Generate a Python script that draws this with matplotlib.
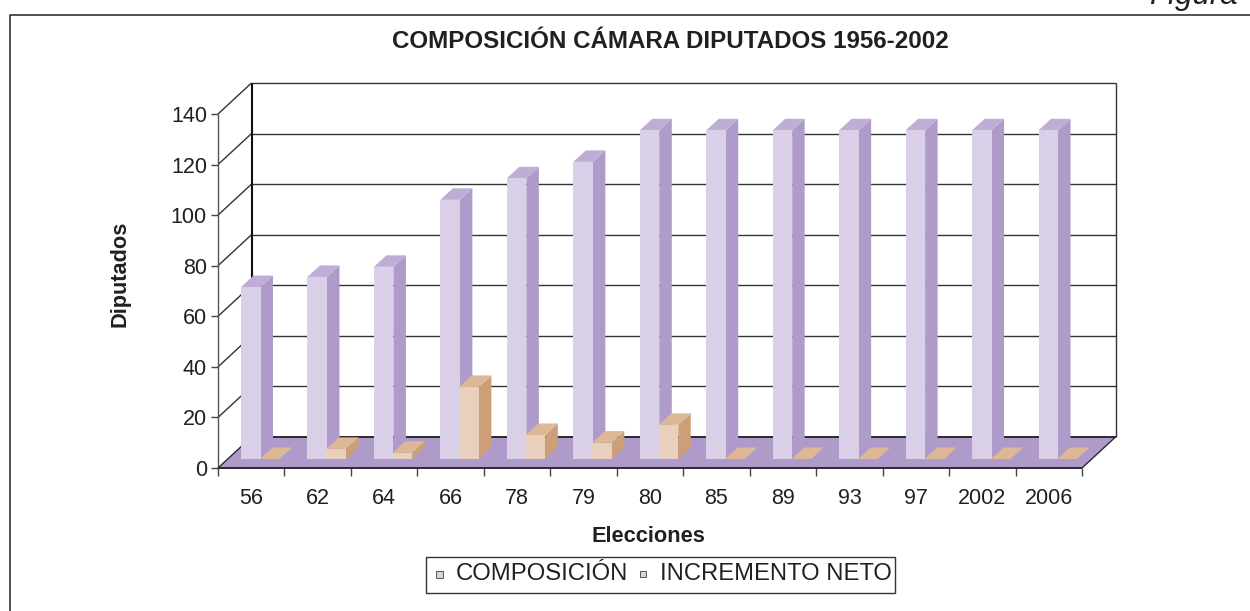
""" Composicion camara diputados, barras con falso 3D """
import matplotlib
matplotlib.use("Agg")
import matplotlib.pyplot as plt
from matplotlib.lines import Line2D
from matplotlib.patches import Polygon, Rectangle

plt.rcParams['font.family'] = ['Liberation Sans', 'DejaVu Sans']

#------------ Data ------------#
elecciones = ['56', '62', '64', '66', '78', '79', '80', '85', '89', '93', '97', '2002', '2006']
composicion = [68, 72, 76, 102.5, 111, 117.5, 130, 130, 130, 130, 130, 130, 130]
incremento = [0, 4, 2.5, 28.5, 9.5, 6.5, 13.5, 0, 0, 0, 0, 0, 0]
y_ticks = [0, 20, 40, 60, 80, 100, 120, 140]

#------------ Styles ------------#
W, H = 1250, 611
PURPLE = ('#d9d0e8', '#af9bc9', '#beaed5')   # front, side, top
PEACH = ('#e8d0bc', '#cc9f78', '#ddb896')
FLOOR = '#af9bc9'
LINE = '#2a2a2a'
TEXT = '#231f20'

fig = plt.figure(figsize=(W/100, H/100), dpi=100, facecolor='white')

# axes = front plane of the 3d box, in pixels 218..1082 / 114..468
ax = fig.add_axes([218/W, 1 - 468/H, 864/W, 354/H])
ax.set_xlim(0, len(elecciones))
ax.set_ylim(0, 140)
ax.patch.set_visible(False)
for s in ax.spines.values():
    s.set_visible(False)

px = len(elecciones)/864    # data per pixel, x
py = 140/354                # data per pixel, y
DX, DY = 33.5*px, 31*py     # box depth
BAR_DX, BAR_DY = 12.5*px, 11.5*py   # bar depth
BAR_W = 19.5*px
FRONT_X = 23*px             # bar start inside category
FRONT_Y = 9*py              # bar base above the front floor edge
n = len(elecciones)


def poly(points, color, z, edge=None):
    ax.add_patch(Polygon(points, closed=True, facecolor=color, edgecolor=edge or 'none',
                         linewidth=0.5 if edge else 0, clip_on=False, zorder=z))


def line(xs, ys, lw=1.0, z=1, color=LINE):
    ax.plot(xs, ys, color=color, lw=lw, clip_on=False, zorder=z, solid_capstyle='butt')


def bar3d(x0, val, colors, z):
    y0 = FRONT_Y
    y1 = FRONT_Y + val
    x1 = x0 + BAR_W
    poly([(x1, y0), (x1 + BAR_DX, y0 + BAR_DY), (x1 + BAR_DX, y1 + BAR_DY), (x1, y1)], colors[1], z)
    poly([(x0, y1), (x1, y1), (x1 + BAR_DX, y1 + BAR_DY), (x0 + BAR_DX, y1 + BAR_DY)], colors[2], z)
    poly([(x0, y0), (x1, y0), (x1, y1), (x0, y1)], colors[0], z)


#------------ Box ------------#
poly([(0, 0), (n, 0), (n + DX, DY), (DX, DY)], FLOOR, 2)
for t in y_ticks[1:]:
    line([DX, n + DX], [t + DY, t + DY], 1.0, 1, '#333333')
    line([0, DX], [t, t + DY], 1.0, 1, '#333333')
line([DX, n + DX], [DY, DY], 1.4, 3)
line([0, n], [0, 0], 1.4, 3)
line([0, DX], [0, DY], 1.0, 3)
line([n, n + DX], [0, DY], 1.0, 3)
line([DX, DX], [DY, 140 + DY], 1.5, 1, '#111111')
line([n + DX, n + DX], [DY, 140 + DY], 1.0, 1, '#333333')
line([0, 0], [0, 140], 1.0, 1, '#555555')

#------------ Bars ------------#
for i, (a, b) in enumerate(zip(composicion, incremento)):
    bar3d(i + FRONT_X, a, PURPLE, 4 + 2*i)
    bar3d(i + FRONT_X + BAR_W - 0.5*px, b, PEACH, 5 + 2*i)

#------------ Axes ticks ------------#
ax.set_xticks(range(n + 1))
ax.set_xticklabels([])
ax.tick_params(axis='x', length=6, width=1, color='#444444', direction='out')
ax.set_yticks(y_ticks)
ax.tick_params(axis='y', length=5, width=1, color='#444444', direction='out', pad=3,
               labelsize=15.5, labelcolor=TEXT)
for i, lab in enumerate(elecciones):
    ax.text(i + 0.5, -12, lab, ha='center', va='center', fontsize=15.5, color=TEXT)

#------------ Texts ------------#
fig.text(670/W, 1 - 42/H, 'COMPOSICIÓN CÁMARA DIPUTADOS 1956-2002', ha='center', va='center',
         fontsize=17.4, fontweight='bold', color=TEXT)
fig.text(648/W, 1 - 536/H, 'Elecciones', ha='center', va='center', fontsize=15.7, fontweight='bold', color=TEXT)
fig.text(120/W, 1 - 274/H, 'Diputados', ha='center', va='center', rotation=90, fontsize=15.7,
         fontweight='bold', color=TEXT)
fig.text(1238/W, 1 - 4/H, 'Figura', ha='right', va='baseline', fontsize=22.5, style='italic', color=TEXT)

#------------ Frame and legend ------------#
# only top and left sides of the frame are in the picture
fig.add_artist(Line2D([10/W, 10/W, 1], [0, 1 - 15/H, 1 - 15/H], transform=fig.transFigure,
                      color='#333333', lw=1.2))
fig.add_artist(Rectangle((426/W, 1 - 593/H), 469/W, 36/H, transform=fig.transFigure, fill=False,
                         edgecolor='#333333', lw=1.0))
for x, c, s in [(439, PURPLE[0], 7), (643, PEACH[0], 6)]:
    fig.add_artist(Rectangle(((x - s/2)/W, 1 - (574 + s/2)/H), s/W, s/H, transform=fig.transFigure,
                             facecolor=c, edgecolor='#555555', lw=0.7))
fig.text(456/W, 1 - 574/H, 'COMPOSICIÓN', ha='left', va='center', fontsize=17.2, color=TEXT)
fig.text(660/W, 1 - 574/H, 'INCREMENTO NETO', ha='left', va='center', fontsize=17.1, color=TEXT)

fig.savefig('out.png', dpi=100)
